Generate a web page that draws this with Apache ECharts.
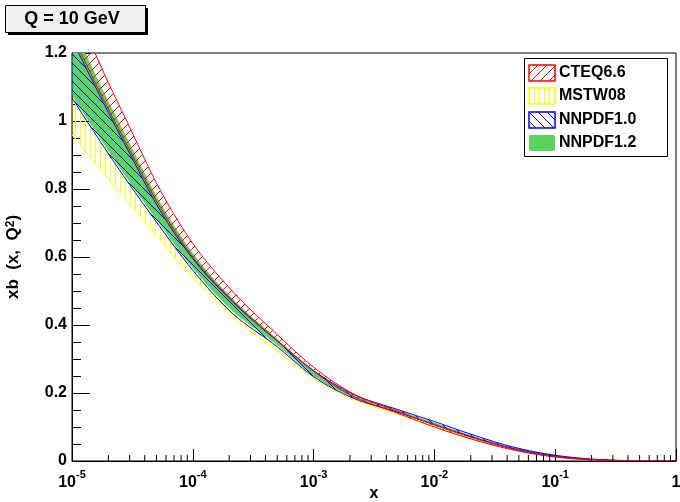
<!DOCTYPE html>
<html>
<head>
<meta charset="utf-8">
<script src="https://cdn.jsdelivr.net/npm/echarts@6/dist/echarts.min.js"></script>
<style>
  html, body { margin: 0; padding: 0; background: #fff; }
  #chart { width: 680px; height: 502px; }
</style>
</head>
<body>
<div id="chart"></div>
<script>
// x grid (log scale) and band edges
const xValues = [1e-5, 2e-5, 3e-5, 5e-5, 1e-4, 2e-4, 5e-4, 1e-3, 2e-3, 5e-3, 1e-2, 2e-2, 5e-2, 0.1, 0.2, 0.5, 1]

const cteqUpper = [1.356, 1.113, 0.982, 0.818, 0.640, 0.510, 0.372, 0.276, 0.203, 0.146, 0.106, 0.070, 0.031, 0.013, 0.0042, 0.0004, 0]
const cteqLower = [1.255, 1.035, 0.915, 0.765, 0.600, 0.481, 0.354, 0.264, 0.195, 0.140, 0.100, 0.065, 0.029, 0.0115, 0.0035, 0.0003, 0]

const mstwUpper = [1.200, 0.995, 0.880, 0.740, 0.585, 0.473, 0.349, 0.263, 0.196, 0.145, 0.108, 0.072, 0.033, 0.0145, 0.0046, 0.0005, 0]
const mstwLower = [0.959, 0.830, 0.757, 0.662, 0.540, 0.433, 0.323, 0.243, 0.184, 0.137, 0.101, 0.067, 0.030, 0.0125, 0.004, 0.0004, 0]

const nnpdf10Upper = [1.240, 1.025, 0.905, 0.755, 0.595, 0.478, 0.353, 0.266, 0.201, 0.151, 0.116, 0.079, 0.037, 0.017, 0.0058, 0.0007, 0]
const nnpdf10Lower = [1.068, 0.904, 0.813, 0.703, 0.561, 0.443, 0.336, 0.248, 0.189, 0.143, 0.107, 0.072, 0.033, 0.0145, 0.0047, 0.0005, 0]

const nnpdf12Upper = [1.285, 1.058, 0.935, 0.780, 0.612, 0.488, 0.359, 0.267, 0.199, 0.149, 0.113, 0.076, 0.036, 0.016, 0.0053, 0.0006, 0]
const nnpdf12Lower = [1.075, 0.912, 0.820, 0.710, 0.567, 0.450, 0.341, 0.251, 0.191, 0.144, 0.108, 0.073, 0.034, 0.015, 0.0048, 0.0005, 0]

const legendNames = ['CTEQ6.6', 'MSTW08', 'NNPDF1.0', 'NNPDF1.2']
const xMinorTicks = [
  2e-5, 3e-5, 4e-5, 5e-5, 6e-5, 7e-5, 8e-5, 9e-5,
  2e-4, 3e-4, 4e-4, 5e-4, 6e-4, 7e-4, 8e-4, 9e-4,
  2e-3, 3e-3, 4e-3, 5e-3, 6e-3, 7e-3, 8e-3, 9e-3,
  2e-2, 3e-2, 4e-2, 5e-2, 6e-2, 7e-2, 8e-2, 9e-2,
  0.2, 0.3, 0.4, 0.5, 0.6, 0.7, 0.8, 0.9
]

const font = '"Liberation Sans", Arial, Helvetica, sans-serif'

/* hatch tiles drawn pixel by pixel (no antialias -> no dark fringes) */
function hatch(color, kind, size) {
  let c = document.createElement('canvas')
  c.width = size
  c.height = size
  let g = c.getContext('2d')
  g.fillStyle = color
  for (let i = 0; i < size; i++) {
    if (kind === '/') g.fillRect(i, size - 1 - i, 1, 1)
    else if (kind === '\\') g.fillRect(i, i, 1, 1)
    else g.fillRect(0, i, 1, 1)
  }
  return { image: c, repeat: 'repeat' }
}

const redHatch = hatch('#ff0000', '/', 9)
const yellowHatch = hatch('#ffff00', '|', 5)
const blueHatch = hatch('#0000ff', '\\', 9)
const green = '#5bd45b'

/* monotone cubic through screen points (same idea as smooth:'monotone' lines) */
function monotone(pts) {
  let n = pts.length
  let s = [], t = []
  for (let i = 0; i < n - 1; i++) s.push((pts[i + 1][1] - pts[i][1]) / (pts[i + 1][0] - pts[i][0]))
  for (let i = 1; i < n - 1; i++) {
    let h0 = pts[i][0] - pts[i - 1][0], h1 = pts[i + 1][0] - pts[i][0]
    let p = (s[i - 1] * h1 + s[i] * h0) / (h0 + h1)
    t[i] = (Math.sign(s[i - 1]) + Math.sign(s[i])) * Math.min(Math.abs(s[i - 1]), Math.abs(s[i]), 0.5 * Math.abs(p)) || 0
  }
  t[0] = (3 * s[0] - t[1]) / 2
  t[n - 1] = (3 * s[n - 2] - t[n - 2]) / 2
  let out = []
  for (let i = 0; i < n - 1; i++) {
    let x0 = pts[i][0], y0 = pts[i][1], x1 = pts[i + 1][0], y1 = pts[i + 1][1], h = x1 - x0
    for (let k = 0; k < 10; k++) {
      let u = k / 10
      let h00 = 2 * u * u * u - 3 * u * u + 1, h10 = u * u * u - 2 * u * u + u
      let h01 = -2 * u * u * u + 3 * u * u, h11 = u * u * u - u * u
      out.push([x0 + u * h, h00 * y0 + h10 * h * t[i] + h01 * y1 + h11 * h * t[i + 1]])
    }
  }
  out.push(pts[n - 1])
  return out
}

function band(name, upper, lower, fill, stroke, z) {
  return {
    type: 'custom',
    name: name,
    z: z,
    silent: true,
    data: [[1e-3, 0.3]],
    renderItem: function (params, api) {
      let up = xValues.map((x, i) => api.coord([x, upper[i]]))
      let lo = xValues.map((x, i) => api.coord([x, lower[i]]))
      let pts = monotone(up).concat(monotone(lo).reverse())
      let cs = params.coordSys
      return {
        type: 'polygon',
        shape: { points: pts },
        style: { fill: fill, stroke: stroke, lineWidth: stroke ? 1 : 0 },
        clipPath: { type: 'rect', shape: { x: cs.x, y: cs.y, width: cs.width, height: cs.height } },
      }
    },
  }
}

let chart = echarts.init(document.getElementById('chart'))

let option = {
  animation: false,
  backgroundColor: '#fff',
  grid: {
    left: 72, right: 4, top: 53, bottom: 41,
    outerBoundsMode: 'none',
    show: true, borderColor: '#000', borderWidth: 1,
  },
  xAxis: {
    type: 'log',
    logBase: 10,
    min: 1e-5,
    max: 1,
    name: 'x',
    nameLocation: 'middle',
    nameGap: 25,
    nameMoveOverlap: false,
    nameTextStyle: { fontFamily: font, fontWeight: 'bold', fontSize: 16, color: '#000' },
    axisLine: { lineStyle: { color: '#000', width: 1 } },
    axisTick: { inside: true, length: 12, lineStyle: { color: '#000' } },
    splitLine: { show: false },
    axisLabel: {
      margin: 8,
      showMinLabel: true,
      showMaxLabel: true,
      formatter: function (v) {
        let e = Math.round(Math.log10(v))
        return e === 0 ? '{b|1}' : '{b|10}{s|' + e + '}'
      },
      rich: {
        b: { fontFamily: font, fontWeight: 'bold', fontSize: 16, color: '#000', lineHeight: 22, verticalAlign: 'bottom' },
        s: { fontFamily: font, fontWeight: 'bold', fontSize: 11, color: '#000', lineHeight: 11, verticalAlign: 'top' },
      },
    },
  },
  yAxis: {
    type: 'value',
    min: 0,
    max: 1.2,
    interval: 0.2,
    name: 'xb  (x,  Q{s|2})',
    nameLocation: 'middle',
    nameGap: 50,
    nameTextStyle: {
      fontFamily: font, fontWeight: 'bold', fontSize: 17, color: '#000',
      rich: { s: { fontFamily: font, fontWeight: 'bold', fontSize: 12, color: '#000', verticalAlign: 'top', lineHeight: 12 } },
    },
    axisLine: { show: true, lineStyle: { color: '#000', width: 1 } },
    axisTick: { inside: true, length: 18, lineStyle: { color: '#000' } },
    minorTick: { show: true, splitNumber: 4, length: 9, lineStyle: { color: '#000' } },
    splitLine: { show: false },
    axisLabel: { margin: 5, fontFamily: font, fontWeight: 'bold', fontSize: 16, color: '#000' },
  },
  graphic: [
    { type: 'rect', left: 8, top: 8, shape: { width: 140, height: 27 }, style: { fill: '#000' }, z: 10 },
    { type: 'rect', left: 5, top: 5, shape: { width: 140, height: 27 }, style: { fill: '#f0f0f0', stroke: '#000', lineWidth: 1 }, z: 11 },
    { type: 'text', x: 72, y: 19, style: { text: 'Q = 10 GeV', fontFamily: font, fontWeight: 'bold', fontSize: 18, fill: '#000', align: 'center', verticalAlign: 'middle' }, z: 12 },
    // legend box
    { type: 'rect', left: 524, top: 58, shape: { width: 143, height: 98 }, style: { fill: '#fff', stroke: '#000', lineWidth: 1 }, z: 20 },
    { type: 'rect', x: 529, y: 65, shape: { width: 26, height: 16 }, style: { fill: redHatch, stroke: '#ff0000', lineWidth: 1.5 }, z: 21 },
    { type: 'rect', x: 529, y: 88, shape: { width: 26, height: 16 }, style: { fill: yellowHatch, stroke: '#ffff00', lineWidth: 1.5 }, z: 21 },
    { type: 'rect', x: 529, y: 112, shape: { width: 26, height: 16 }, style: { fill: blueHatch, stroke: '#0000ff', lineWidth: 1.5 }, z: 21 },
    { type: 'rect', x: 529, y: 135, shape: { width: 26, height: 16, r: 2 }, style: { fill: green }, z: 21 },
    { type: 'text', x: 559, y: 73, style: { text: legendNames[0], fontFamily: font, fontWeight: 'bold', fontSize: 16, fill: '#000', verticalAlign: 'middle' }, z: 21 },
    { type: 'text', x: 559, y: 96, style: { text: legendNames[1], fontFamily: font, fontWeight: 'bold', fontSize: 16, fill: '#000', verticalAlign: 'middle' }, z: 21 },
    { type: 'text', x: 559, y: 120, style: { text: legendNames[2], fontFamily: font, fontWeight: 'bold', fontSize: 16, fill: '#000', verticalAlign: 'middle' }, z: 21 },
    { type: 'text', x: 559, y: 143, style: { text: legendNames[3], fontFamily: font, fontWeight: 'bold', fontSize: 16, fill: '#000', verticalAlign: 'middle' }, z: 21 },
  ],
  series: [
    band('MSTW08', mstwUpper, mstwLower, yellowHatch, '#ffff00', 2),
    band('NNPDF1.2', nnpdf12Upper, nnpdf12Lower, green, null, 3),
    band('NNPDF1.0', nnpdf10Upper, nnpdf10Lower, blueHatch, '#0000ff', 4),
    band('CTEQ6.6', cteqUpper, cteqLower, redHatch, '#ff0000', 5),
    {
      type: 'custom',
      name: 'minor ticks',
      silent: true,
      z: 6,
      data: xMinorTicks.map(function (v) { return [v, 0] }),
      renderItem: function (params, api) {
        let p = api.coord([api.value(0), 0])
        return { type: 'line', shape: { x1: p[0], y1: p[1], x2: p[0], y2: p[1] - 6 }, style: { stroke: '#000', lineWidth: 1 } }
      },
    },
  ],
}

chart.setOption(option)
</script>
</body>
</html>
